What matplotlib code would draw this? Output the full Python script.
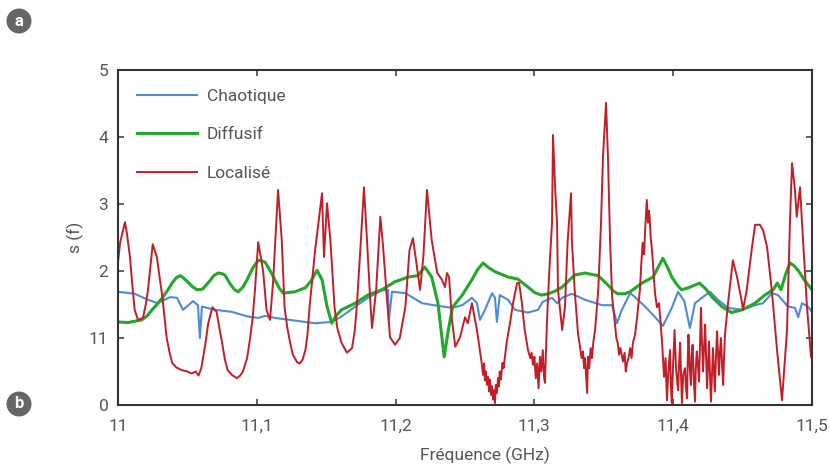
import matplotlib
matplotlib.use("Agg")
import matplotlib.pyplot as plt

plt.rcParams["font.family"] = ["Roboto", "DejaVu Sans"]

# Chaotique (blue)
chao_f = [11.0, 11.012, 11.0216, 11.0288, 11.0375, 11.0425, 11.0468, 11.054, 11.0576, 11.059,
          11.0605, 11.070, 11.082, 11.0937, 11.101, 11.106, 11.113, 11.1275, 11.142, 11.154,
          11.161, 11.171, 11.180, 11.190, 11.1945, 11.1952, 11.1974, 11.207, 11.219, 11.2305,
          11.2406, 11.248, 11.255, 11.2586, 11.2608, 11.2644, 11.2695, 11.2716, 11.273, 11.275,
          11.281, 11.286, 11.2954, 11.3026, 11.306, 11.3127, 11.3163, 11.32, 11.327, 11.3365,
          11.3487, 11.356, 11.3595, 11.363, 11.369, 11.3725, 11.3797, 11.387, 11.3926, 11.399,
          11.4035, 11.408, 11.412, 11.4157, 11.4207, 11.4265, 11.4323, 11.4395, 11.4496, 11.459,
          11.4647, 11.4712, 11.4755, 11.4827, 11.4878, 11.49, 11.4928, 11.497, 11.5]
chao_s = [1.69, 1.66, 1.57, 1.52, 1.61, 1.60, 1.42, 1.55, 1.49, 1.00,
          1.47, 1.42, 1.39, 1.32, 1.30, 1.33, 1.30, 1.26, 1.22, 1.24,
          1.32, 1.47, 1.60, 1.71, 1.72, 1.27, 1.69, 1.67, 1.52, 1.48,
          1.45, 1.49, 1.60, 1.52, 1.27, 1.42, 1.67, 1.60, 1.24, 1.64,
          1.57, 1.42, 1.38, 1.42, 1.54, 1.60, 1.52, 1.60, 1.66, 1.57,
          1.49, 1.49, 1.22, 1.42, 1.67, 1.61, 1.47, 1.31, 1.18, 1.45,
          1.69, 1.55, 1.15, 1.52, 1.60, 1.69, 1.57, 1.45, 1.42, 1.49,
          1.52, 1.67, 1.64, 1.47, 1.45, 1.31, 1.52, 1.47, 1.39]

# Diffusif (green)
diff_f = [11.0, 11.007, 11.017, 11.021, 11.0245, 11.028, 11.032, 11.036, 11.039, 11.042,
          11.0447, 11.047, 11.05, 11.054, 11.057, 11.061, 11.066, 11.069, 11.072, 11.075,
          11.077, 11.081, 11.084, 11.0865, 11.090, 11.093, 11.097, 11.101, 11.104, 11.106,
          11.110, 11.113, 11.116, 11.119, 11.1275, 11.135, 11.139, 11.1434, 11.147, 11.1506,
          11.154, 11.157, 11.161, 11.171, 11.180, 11.190, 11.1996, 11.209, 11.216, 11.221,
          11.226, 11.2305, 11.235, 11.238, 11.241, 11.248, 11.255, 11.259, 11.263, 11.267,
          11.2716, 11.281, 11.288, 11.2954, 11.300, 11.305, 11.31, 11.315, 11.32, 11.325,
          11.329, 11.3365, 11.346, 11.353, 11.357, 11.360, 11.365, 11.369, 11.3775, 11.3855,
          11.389, 11.3926, 11.396, 11.399, 11.4025, 11.406, 11.411, 11.419, 11.424, 11.428,
          11.435, 11.442, 11.4496, 11.459, 11.466, 11.472, 11.475, 11.4777, 11.481, 11.4841,
          11.487, 11.49, 11.495, 11.5]
diff_s = [1.24, 1.23, 1.27, 1.33, 1.42, 1.50, 1.60, 1.72, 1.82, 1.90,
          1.93, 1.90, 1.84, 1.76, 1.72, 1.73, 1.85, 1.93, 1.97, 1.96,
          1.94, 1.80, 1.72, 1.69, 1.76, 1.87, 2.04, 2.16, 2.15, 2.13,
          1.99, 1.87, 1.75, 1.67, 1.69, 1.75, 1.85, 2.01, 1.87, 1.47,
          1.22, 1.33, 1.42, 1.52, 1.64, 1.72, 1.84, 1.91, 1.93, 2.06,
          1.91, 1.52, 0.72, 1.12, 1.46, 1.64, 1.87, 2.02, 2.12, 2.05,
          1.99, 1.91, 1.88, 1.76, 1.68, 1.64, 1.66, 1.70, 1.76, 1.86,
          1.94, 1.97, 1.93, 1.79, 1.70, 1.66, 1.66, 1.69, 1.82, 1.91,
          2.05, 2.19, 2.05, 1.91, 1.80, 1.72, 1.75, 1.82, 1.72, 1.61,
          1.47, 1.38, 1.42, 1.52, 1.64, 1.72, 1.82, 1.72, 1.95, 2.12,
          2.08, 2.01, 1.85, 1.72]

# Localisé (red)
loc_f = [11.0, 11.0015, 11.005, 11.0065, 11.0086, 11.0105, 11.012, 11.0144, 11.018, 11.020,
         11.0216, 11.025, 11.028, 11.030, 11.032, 11.035, 11.037, 11.039, 11.042, 11.046,
         11.050, 11.053, 11.056, 11.058, 11.060, 11.061, 11.063, 11.065, 11.068, 11.071,
         11.073, 11.075, 11.077, 11.079, 11.082, 11.0857, 11.088, 11.090, 11.093, 11.095,
         11.097, 11.0987, 11.101, 11.1045, 11.107, 11.1095, 11.1117, 11.1153, 11.118, 11.120,
         11.122, 11.124, 11.126, 11.129, 11.131, 11.133, 11.135, 11.1365, 11.138, 11.142,
         11.147, 11.1484, 11.1506, 11.153, 11.156, 11.158, 11.161, 11.165, 11.1686, 11.1705,
         11.172, 11.175, 11.1772, 11.1794, 11.1816, 11.183, 11.186, 11.189, 11.191, 11.194,
         11.196, 11.1996, 11.203, 11.207, 11.210, 11.2125, 11.215, 11.2176, 11.220, 11.2226,
         11.226, 11.230, 11.2334, 11.2356, 11.237, 11.2385, 11.2406, 11.243, 11.2464, 11.250,
         11.252, 11.255, 11.2586, 11.262, 11.263, 11.2638, 11.2644, 11.265, 11.2658, 11.2666,
         11.2675, 11.268, 11.2688, 11.2695, 11.2703, 11.271, 11.2716, 11.2722, 11.273, 11.2738,
         11.2745, 11.275, 11.2758, 11.277, 11.2778, 11.280, 11.2824, 11.2846, 11.2875, 11.289,
         11.291, 11.293, 11.2954, 11.297, 11.298, 11.299, 11.300, 11.301, 11.302, 11.303,
         11.304, 11.305, 11.306, 11.307, 11.3076, 11.309, 11.3105, 11.3127, 11.3134, 11.315,
         11.3163, 11.317, 11.320, 11.322, 11.324, 11.3264, 11.327, 11.329, 11.3314, 11.333,
         11.334, 11.335, 11.3358, 11.3365, 11.3372, 11.338, 11.3386, 11.3395, 11.3405, 11.3415,
         11.3425, 11.3437, 11.346, 11.348, 11.3494, 11.3516, 11.353, 11.3545, 11.356, 11.358,
         11.359, 11.360, 11.361, 11.362, 11.3638, 11.365, 11.3658, 11.3667, 11.368, 11.369,
         11.370, 11.371, 11.3725, 11.374, 11.376, 11.377, 11.378, 11.379, 11.380, 11.381,
         11.3818, 11.3825, 11.383, 11.3838, 11.3847, 11.3855, 11.386, 11.387, 11.3883, 11.3898,
         11.391, 11.392, 11.3934, 11.3945, 11.3955, 11.3965, 11.3977, 11.3983, 11.399, 11.400,
         11.401, 11.402, 11.4035, 11.4042, 11.405, 11.4057, 11.4063, 11.4072, 11.4085, 11.4092,
         11.410, 11.4105, 11.411, 11.4118, 11.4128, 11.4133, 11.414, 11.4148, 11.4157, 11.4163,
         11.417, 11.4178, 11.4186, 11.4193, 11.420, 11.4207, 11.4215, 11.4222, 11.423, 11.4237,
         11.4244, 11.4251, 11.4258, 11.4265, 11.4272, 11.428, 11.4287, 11.4293, 11.430, 11.4308,
         11.4316, 11.4323, 11.433, 11.4337, 11.4344, 11.4352, 11.436, 11.4366, 11.4373, 11.4395,
         11.443, 11.446, 11.4496, 11.4503, 11.453, 11.4568, 11.459, 11.4625, 11.4647, 11.4676,
         11.471, 11.4748, 11.4784, 11.482, 11.4841, 11.4856, 11.4877, 11.489, 11.4914, 11.4928,
         11.4964, 11.4993]
loc_s = [2.13, 2.42, 2.73, 2.55, 2.21, 1.75, 1.42, 1.27, 1.30, 1.50,
         1.72, 2.40, 2.21, 1.90, 1.61, 1.01, 0.80, 0.63, 0.56, 0.52,
         0.50, 0.47, 0.50, 0.44, 0.55, 0.67, 0.92, 1.22, 1.46, 1.39,
         1.15, 0.93, 0.68, 0.52, 0.45, 0.40, 0.44, 0.50, 0.70, 0.97,
         1.30, 1.72, 2.43, 2.01, 1.42, 1.27, 1.82, 3.21, 2.46, 1.46,
         1.15, 0.93, 0.75, 0.64, 0.62, 0.68, 0.82, 1.05, 1.46, 2.31,
         3.16, 2.21, 3.01, 2.46, 1.46, 1.15, 0.93, 0.78, 0.85, 1.10,
         1.46, 2.46, 3.25, 2.46, 1.61, 1.15, 1.72, 2.81, 2.36, 1.52,
         1.01, 0.90, 1.00, 1.46, 2.31, 2.49, 2.12, 1.72, 2.21, 3.21,
         2.46, 1.97, 1.87, 1.76, 1.97, 1.91, 1.27, 0.87, 1.01, 1.31,
         1.22, 1.52, 1.12, 0.63, 0.45, 0.62, 0.37, 0.50, 0.30, 0.42,
         0.20, 0.38, 0.15, 0.28, 0.08, 0.22, 0.03, 0.30, 0.18, 0.40,
         0.28, 0.50, 0.38, 0.63, 0.55, 0.93, 1.22, 1.52, 1.82, 1.82,
         1.52, 1.12, 0.82, 0.70, 0.78, 0.60, 0.72, 0.40, 0.62, 0.25,
         0.72, 0.50, 0.82, 0.40, 0.33, 1.22, 1.91, 2.72, 4.03, 3.21,
         2.72, 1.72, 1.12, 1.46, 2.46, 3.16, 2.46, 1.72, 1.07, 0.85,
         0.70, 0.80, 0.55, 0.70, 0.45, 0.18, 0.72, 0.55, 0.85, 0.70,
         0.95, 1.12, 1.72, 2.72, 3.70, 4.51, 3.70, 2.46, 1.61, 1.22,
         1.00, 0.93, 0.75, 0.85, 0.65, 0.78, 0.50, 0.62, 0.72, 0.85,
         0.70, 0.93, 1.05, 1.31, 1.72, 2.10, 2.42, 2.25, 2.70, 3.06,
         2.72, 2.90, 2.81, 2.50, 2.31, 2.10, 1.91, 1.65, 1.46, 1.52,
         1.20, 0.93, 0.42, 0.70, 0.07, 0.50, 0.82, 0.30, 0.03, 0.65,
         1.12, 0.55, 0.22, 0.60, 0.93, 0.40, 0.03, 0.45, 0.55, 0.25,
         0.10, 0.70, 1.05, 0.60, 0.30, 0.75, 0.90, 0.40, 0.05, 0.55,
         0.80, 0.60, 0.35, 0.90, 1.45, 0.95, 0.50, 0.85, 1.20, 0.70,
         0.25, 0.60, 0.95, 0.45, 0.05, 0.50, 0.85, 0.55, 0.20, 0.70,
         1.10, 0.75, 0.45, 0.80, 1.00, 0.60, 0.30, 0.70, 1.05, 1.52,
         2.16, 1.91, 1.52, 1.42, 1.72, 2.36, 2.69, 2.69, 2.61, 2.36,
         1.72, 0.82, 0.07, 1.12, 2.72, 3.61, 3.21, 2.81, 3.25, 2.72,
         1.46, 0.72]

x_ticks = [11, 11.1, 11.2, 11.3, 11.4, 11.5]
x_tick_labels = ["11", "11,1", "11,2", "11,3", "11,4", "11,5"]
y_ticks = [0, 1, 2, 3, 4, 5]
y_tick_labels = ["0", "11", "2", "3", "4", "5"]

TEXT = "#555555"
FS = 12.5

fig = plt.figure(figsize=(8.3, 4.7), dpi=100)
ax = fig.add_axes([118 / 830, 65 / 470, 694 / 830, 335 / 470])

ax.plot(chao_f, chao_s, color="#4f8ad8", lw=1.5, label="Chaotique")
ax.plot(diff_f, diff_s, color="#22a82a", lw=2.2, label="Diffusif")
ax.plot(loc_f, loc_s, color="#c21e28", lw=1.4, label="Localisé")

ax.set_xlim(11, 11.5)
ax.set_ylim(0, 5)
ax.set_xticks(x_ticks)
ax.set_xticklabels(x_tick_labels)
ax.set_yticks(y_ticks)
ax.set_yticklabels(y_tick_labels)
ax.tick_params(direction="in", top=True, right=True, length=4, width=1.2,
               color="#444444", labelsize=FS, labelcolor=TEXT)
ax.tick_params(axis="x", pad=10)
ax.tick_params(axis="y", pad=7)
for spine in ax.spines.values():
    spine.set_linewidth(1.5)
    spine.set_color("#333333")

leg = ax.legend(loc="upper left", bbox_to_anchor=(0.027, 0.943), frameon=False,
                borderpad=0, borderaxespad=0, handlelength=3.45, handletextpad=0.6,
                labelspacing=1.33, fontsize=FS)
for text in leg.get_texts():
    text.set_color(TEXT)

fig.text(75 / 830, 1 - 237 / 470, "s (f)", rotation=90, ha="center", va="center",
         fontsize=FS, color=TEXT)
fig.text(485 / 830, 1 - 455 / 470, "Fréquence (GHz)", ha="center", va="center",
         fontsize=FS, color=TEXT)

# grey round panel markers on the left margin
for label, y_px in (("a", 21), ("b", 404)):
    fig.text(19 / 830, 1 - y_px / 470, label, ha="center", va="center", color="white",
             fontsize=12, fontweight="bold",
             bbox=dict(boxstyle="circle,pad=0.3", fc="#666666", ec="none"))

fig.savefig("out.png", dpi=100)
